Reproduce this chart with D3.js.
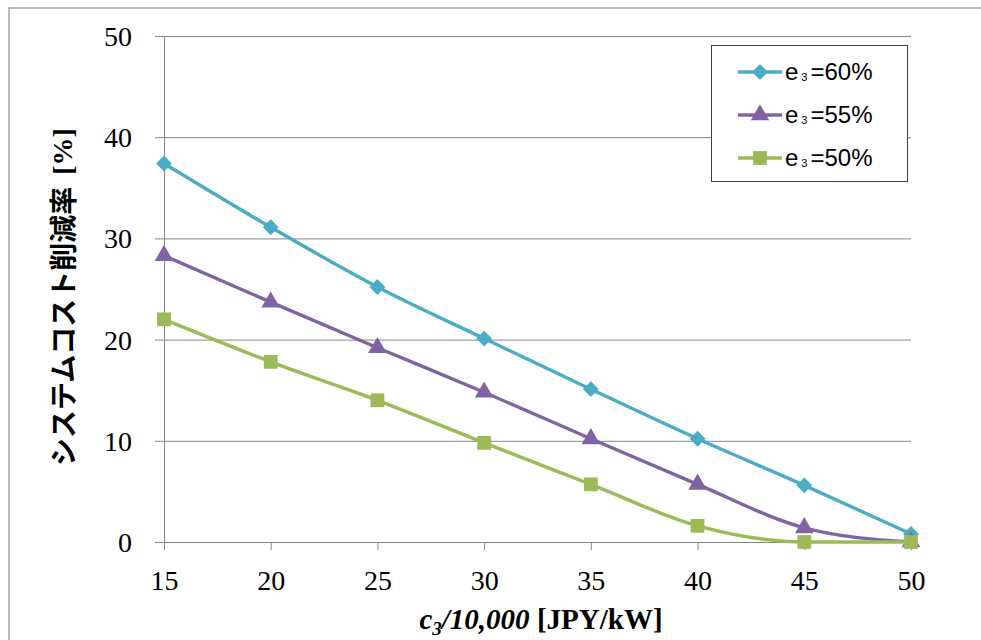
<!DOCTYPE html>
<html>
<head>
<meta charset="utf-8">
<script src="https://cdn.jsdelivr.net/npm/d3@7"></script>
<style>
  html, body { margin: 0; padding: 0; background: #fff; }
  svg { display: block; }
</style>
</head>
<body>
<svg id="chart" width="981" height="640"></svg>
<script>
// Unit cost c3 (10,000 JPY/kW) on the x axis
const costs = [15, 20, 25, 30, 35, 40, 45, 50];
// System cost reduction rate [%] for each efficiency e3
const reduction60 = [37.4, 31.1, 25.2, 20.1, 15.1, 10.2, 5.6, 0.8];
const reduction55 = [28.3, 23.7, 19.2, 14.8, 10.2, 5.7, 1.4, 0.0];
const reduction50 = [22.0, 17.8, 14.0, 9.8, 5.7, 1.6, 0.0, 0.0];
const seriesLabels = ["60%", "55%", "50%"];
const yTicks = [0, 10, 20, 30, 40, 50];

const series = [
  { label: seriesLabels[0], values: reduction60, color: "#4bacc6", marker: "diamond" },
  { label: seriesLabels[1], values: reduction55, color: "#8064a2", marker: "triangle" },
  { label: seriesLabels[2], values: reduction50, color: "#9bbb59", marker: "square" }
];

const svg = d3.select("#chart");
const plot = { left: 164, right: 911, top: 36, bottom: 542 };

const x = d3.scaleLinear().domain([15, 50]).range([plot.left, plot.right]);
const y = d3.scaleLinear().domain([0, 50]).range([plot.bottom, plot.top]);

// outer frame
svg.append("path")
  .attr("d", "M9,640 L9,8 L981,8")
  .attr("fill", "none").attr("stroke", "#a6a6a6").attr("stroke-width", 1.5);

const axisColor = "#868686";
const serif = "'Liberation Serif','Times New Roman',serif";

// horizontal gridlines + y axis
const yAxis = svg.append("g")
  .attr("transform", `translate(${plot.left},0)`)
  .call(d3.axisLeft(y).tickValues(yTicks).tickSize(9).tickPadding(23));
yAxis.select(".domain").attr("stroke", axisColor).attr("d", `M0.5,${plot.bottom}V${plot.top}`);
yAxis.selectAll(".tick line").attr("stroke", axisColor);
yAxis.selectAll(".tick").append("line")
  .attr("x1", 0).attr("x2", plot.right - plot.left)
  .attr("stroke", axisColor).attr("stroke-width", 1);
yAxis.selectAll(".tick text")
  .attr("font-family", serif).attr("font-size", 28).attr("fill", "#000")
  .attr("dy", "0.34em");

// x axis
const xAxis = svg.append("g")
  .attr("transform", `translate(0,${plot.bottom})`)
  .call(d3.axisBottom(x).tickValues(costs).tickSize(8).tickPadding(20));
xAxis.select(".domain").attr("stroke", axisColor).attr("d", `M${plot.left},0.5H${plot.right}`);
xAxis.selectAll(".tick line").attr("stroke", axisColor);
xAxis.selectAll(".tick text")
  .attr("font-family", serif).attr("font-size", 28).attr("fill", "#000");

// smoothed lines
const line = d3.line()
  .x((d, i) => x(costs[i]))
  .y(d => y(d))
  .curve(d3.curveMonotoneX);

// square diamond, triangle and square markers
const markerPath = {
  diamond: d3.symbol().type(d3.symbolSquare).size(125)(),
  triangle: d3.symbol().type(d3.symbolTriangle).size(150)(),
  square: d3.symbol().type(d3.symbolSquare).size(190)()
};
const markerRotate = { diamond: 45, triangle: 0, square: 0 };

series.forEach(s => {
  svg.append("path")
    .datum(s.values)
    .attr("d", line)
    .attr("fill", "none")
    .attr("stroke", s.color)
    .attr("stroke-width", 3.4)
    .attr("stroke-linejoin", "round");
  svg.append("g").selectAll("path")
    .data(s.values)
    .join("path")
    .attr("d", markerPath[s.marker])
    .attr("transform", (d, i) => `translate(${x(costs[i])},${y(d)}) rotate(${markerRotate[s.marker]})`)
    .attr("fill", s.color);
});

// legend
const legend = svg.append("g");
legend.append("rect")
  .attr("x", 711.5).attr("y", 45.5).attr("width", 196).attr("height", 136)
  .attr("fill", "#fff").attr("stroke", "#404040").attr("stroke-width", 1);
series.forEach((s, i) => {
  const cy = 72 + i * 43;
  legend.append("line")
    .attr("x1", 738).attr("x2", 782).attr("y1", cy).attr("y2", cy)
    .attr("stroke", s.color).attr("stroke-width", 3.4);
  legend.append("path")
    .attr("d", markerPath[s.marker])
    .attr("transform", `translate(760,${cy}) rotate(${markerRotate[s.marker]})`)
    .attr("fill", s.color);
  const t = legend.append("text")
    .attr("x", 785).attr("y", cy + 8)
    .attr("font-family", "'Liberation Sans',Arial,sans-serif")
    .attr("font-size", 24).attr("fill", "#000");
  t.append("tspan").text("e");
  t.append("tspan").attr("dx", 3).attr("dy", 1).attr("font-size", 11).text("3");
  t.append("tspan").attr("dx", 3).attr("dy", -1).text("=" + s.label);
});

// y axis title
const yTitle = svg.append("text")
  .attr("transform", "translate(62,297) rotate(-90)")
  .attr("text-anchor", "middle")
  .attr("dominant-baseline", "central")
  .attr("font-weight", "bold")
  .attr("font-size", 28)
  .attr("fill", "#000");
yTitle.append("tspan")
  .attr("font-family", "'Noto Sans CJK JP',sans-serif")
  .text("システムコスト削減率");
yTitle.append("tspan")
  .attr("font-family", serif)
  .attr("dx", 12)
  .text("[%]");

// x axis title
const xTitle = svg.append("text")
  .attr("x", 541).attr("y", 629)
  .attr("text-anchor", "middle")
  .attr("font-family", serif)
  .attr("font-weight", "bold")
  .attr("font-size", 29)
  .attr("fill", "#000");
xTitle.append("tspan").attr("font-style", "italic").text("c");
xTitle.append("tspan").attr("font-style", "italic").attr("font-size", 19).attr("dy", 6).text("3");
xTitle.append("tspan").attr("font-style", "italic").attr("dy", -6).text("/10,000");
xTitle.append("tspan").text(" [JPY/kW]");
</script>
</body>
</html>
